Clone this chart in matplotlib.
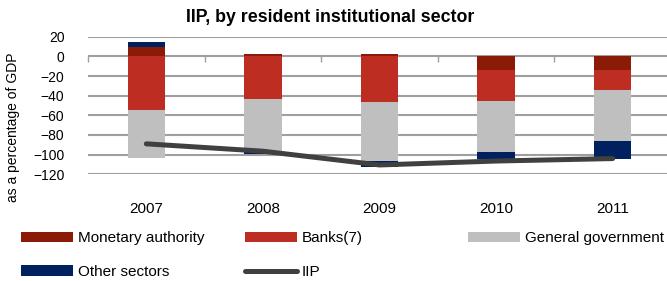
import matplotlib
matplotlib.use("Agg")
import matplotlib.pyplot as plt
from matplotlib.patches import Patch
from matplotlib.lines import Line2D
import numpy as np

plt.rcParams['font.family'] = ['Liberation Sans', 'DejaVu Sans']

years = ["2007", "2008", "2009", "2010", "2011"]
monetary = [10.0, 2.5, 2.5, -14.0, -14.0]
banks = [-55.0, -43.5, -46.0, -31.0, -20.5]
government = [-48.0, -54.0, -60.5, -52.0, -52.0]
other = [4.5, -1.5, -6.5, -7.5, -17.5]
iip = [-89.0, -96.5, -110.5, -106.5, -104.0]

series = [
    ("Monetary authority", monetary, "#8b1a06"),
    ("Banks(7)", banks, "#be2d22"),
    ("General government", government, "#bfbfbf"),
    ("Other sectors", other, "#002060"),
]
IIP_COLOR = "#404040"

W, H = 667, 281
fig = plt.figure(figsize=(W / 100, H / 100), dpi=100)
ax = fig.add_axes([88 / W, 1 - 174.3 / H, 583 / W, (174.3 - 36.7) / H])

x = np.arange(len(years))
pos_base = np.zeros(len(years))
neg_base = np.zeros(len(years))
for name, vals, col in series:
    v = np.array(vals)
    bottom = np.where(v >= 0, pos_base, neg_base)
    ax.bar(x, v, width=0.32, bottom=bottom, color=col, edgecolor="none", zorder=2)
    pos_base = pos_base + np.where(v >= 0, v, 0)
    neg_base = neg_base + np.where(v < 0, v, 0)

ax.plot(x, iip, color=IIP_COLOR, lw=3.6, solid_capstyle="round", zorder=3)

ax.set_xlim(-0.5, 4.5)
ax.set_ylim(-120, 20)
ax.set_yticks(np.arange(-120, 21, 20))
ax.yaxis.grid(True, color="#9f9f9f", lw=1.5, zorder=0)
ax.set_axisbelow(True)
for s in ax.spines.values():
    s.set_visible(False)
ax.tick_params(axis="y", length=0, pad=17, labelsize=10)
ax.set_xticks(x)
ax.set_xticklabels(years)
ax.tick_params(axis="x", length=0, pad=20, labelsize=11)

# category tick marks on the zero line
sec = ax.secondary_xaxis(120 / 140)
sec.set_xticks(np.arange(-0.5, 4.6, 1.0))
sec.tick_params(direction="in", length=4, width=1, color="#9f9f9f", labelbottom=False, labeltop=False)
sec.spines["top"].set_visible(False)
sec.spines["bottom"].set_visible(False)

fig.text(0.495, 1 - 18 / H, "IIP, by resident institutional sector", ha="center", va="center",
         fontsize=12.8, fontweight="bold")
fig.text(13 / W, 1 - 127 / H, "as a percentage of GDP", rotation=90, ha="center", va="center", fontsize=10)

handles = [Patch(facecolor=c, edgecolor="none") for _, _, c in series]
iip_handle = Line2D([], [], color=IIP_COLOR, lw=3.6, solid_capstyle="round")
cols = [
    ([handles[0], handles[3]], ["Monetary authority", "Other sectors"], 21),
    ([handles[1], iip_handle], ["Banks(7)", "IIP"], 245),
    ([handles[2]], ["General government"], 468),
]
for hs, ls, px in cols:
    fig.legend(hs, ls, loc="upper left", bbox_to_anchor=(px / W, 1 - 231 / H), frameon=False,
               fontsize=11, handlelength=3.4, handleheight=0.65, handletextpad=0.33,
               labelspacing=1.3, borderpad=0, borderaxespad=0)

fig.savefig("out.png", dpi=100)
